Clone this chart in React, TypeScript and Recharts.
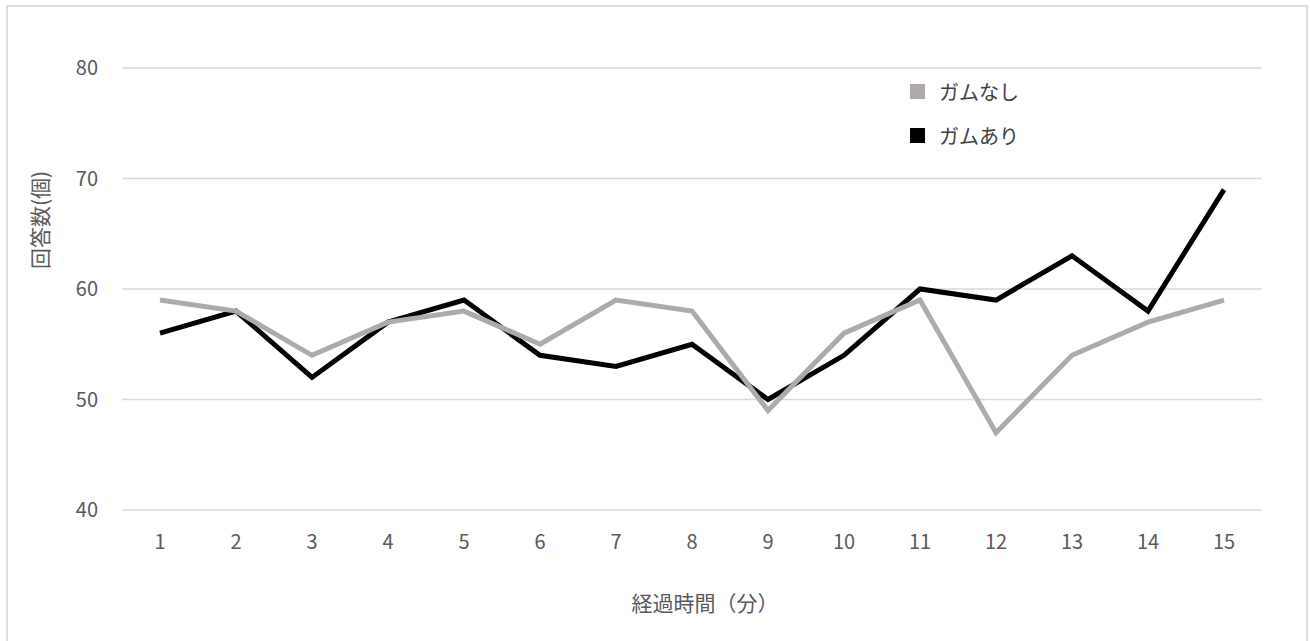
import { LineChart, Line, XAxis, YAxis, CartesianGrid, Legend } from "recharts"

const minutes = ["1", "2", "3", "4", "5", "6", "7", "8", "9", "10", "11", "12", "13", "14", "15"]
const withoutGum = [59, 58, 54, 57, 58, 55, 59, 58, 49, 56, 59, 47, 54, 57, 59]
const withGum = [56, 58, 52, 57, 59, 54, 53, 55, 50, 54, 60, 59, 63, 58, 69]
const yTicks = [40, 50, 60, 70, 80]

const data = minutes.map((m, i) => ({ m, without: withoutGum[i], with: withGum[i] }))

const FONT = '"Noto Sans CJK JP", "Noto Sans", sans-serif'
const TEXT = "#595959"

function LegendBox(props: any) {
  // gray series is drawn last (on top) but listed first, like the original
  const items = [...(props.payload || [])].reverse()
  return (
    <div style={{ fontFamily: FONT }}>
      {items.map((it: any) => (
        <div key={it.value} style={{ display: "flex", alignItems: "center", height: 44 }}>
          <span style={{ width: 15, height: 15, background: it.color, marginRight: 14 }} />
          <span style={{ fontSize: 20, color: "#404040" }}>{it.value}</span>
        </div>
      ))}
    </div>
  )
}

export default function App() {
  return (
    <div style={{ position: "absolute", left: 0, top: 0, width: 1310, height: 641, background: "#fff", overflow: "hidden" }}>
      <div style={{ position: "absolute", left: 6, top: 5, width: 1298, height: 650, border: "2px solid #dcdcdc" }} />
      <LineChart width={1310} height={641} data={data} margin={{ top: 68, right: 48, left: 0, bottom: 0 }}>
        <CartesianGrid horizontal vertical={false} stroke="#d9d9d9" strokeWidth={1.3} />
        <XAxis
          dataKey="m"
          scale="band"
          height={131}
          axisLine={false}
          tickLine={false}
          tickSize={0}
          tickMargin={25}
          tick={{ fill: TEXT, fontSize: 20, fontFamily: FONT }}
          interval={0}
        />
        <YAxis
          width={122}
          domain={[40, 80]}
          ticks={yTicks}
          axisLine={false}
          tickLine={false}
          tickSize={0}
          tickMargin={24}
          tick={{ fill: TEXT, fontSize: 20, fontFamily: FONT }}
        />
        <Legend
          layout="vertical"
          align="center"
          verticalAlign="middle"
          content={LegendBox}
          wrapperStyle={{ left: 910, top: 69, width: 200 }}
        />
        <Line dataKey="with" name="ガムあり" stroke="#000000" strokeWidth={5} dot={false} isAnimationActive={false} />
        <Line dataKey="without" name="ガムなし" stroke="#aeaaaa" strokeWidth={5} dot={false} isAnimationActive={false} />
      </LineChart>
      <div
        style={{
          position: "absolute",
          left: 39,
          top: 220,
          transform: "translate(-50%, -50%) rotate(-90deg)",
          whiteSpace: "nowrap",
          fontFamily: FONT,
          fontSize: 21,
          color: TEXT,
        }}
      >
        回答数(個)
      </div>
      <div
        style={{
          position: "absolute",
          left: 705,
          top: 602,
          transform: "translate(-50%, -50%)",
          whiteSpace: "nowrap",
          fontFamily: FONT,
          fontSize: 21,
          color: TEXT,
        }}
      >
        経過時間（分）
      </div>
    </div>
  )
}
